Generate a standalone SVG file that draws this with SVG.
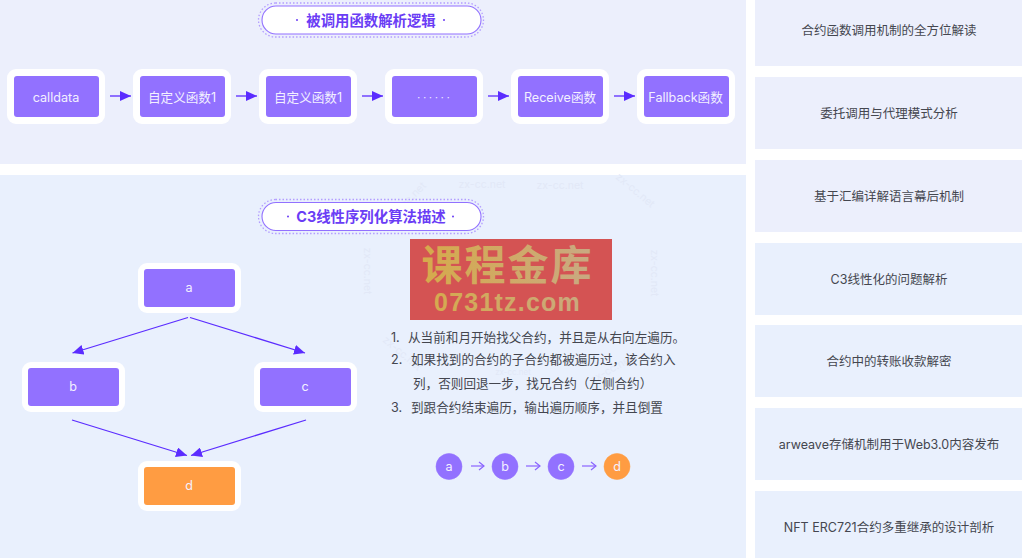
<svg xmlns="http://www.w3.org/2000/svg" width="1022" height="558" viewBox="0 0 1022 558">
<defs>
<marker id="ah" markerUnits="userSpaceOnUse" markerWidth="12" markerHeight="10" refX="11" refY="5" orient="auto"><path d="M0 0L11 5L0 10Z" fill="#5b2cff"/></marker>
<marker id="ah2" markerUnits="userSpaceOnUse" markerWidth="7" markerHeight="10" refX="6" refY="5" orient="auto"><path d="M1 1L6 5L1 9" fill="none" stroke="#8a63ff" stroke-width="1.2"/></marker>
<linearGradient id="gold" gradientUnits="userSpaceOnUse" x1="420" y1="0" x2="600" y2="0"><stop offset="0" stop-color="#d6aa4a"/><stop offset="1" stop-color="#c8a985"/></linearGradient>
</defs>
<style>
text{font-family:"Inter","Noto Sans CJK SC",sans-serif;text-anchor:middle}
.p1{fill:#eceffc}
.p2{fill:#e9f0fd}
.shell{fill:#fff}
.box{fill:#9271ff}
.org{fill:#ff9c42}
.lb{fill:#f3f0ff;font-size:12.6px}
.ttl{fill:#6a3df5;font-size:14.4px;font-weight:700}
.side{fill:#44464f;font-size:12.5px}
.ol{fill:#44464f;font-size:12.6px;text-anchor:start}
.conn{stroke:#5b2cff;stroke-width:1.3;fill:none;marker-end:url(#ah)}
.mini{stroke:#8a63ff;stroke-width:1.2;fill:none;marker-end:url(#ah2)}
.pill{fill:#fff;stroke:#9271ff;stroke-width:1.1}
.dot{fill:none;stroke:#b39dff;stroke-width:1.3;stroke-dasharray:1.5 2}
.wm{fill:#e2e8f7;font-size:10.5px}
.cir{stroke-width:1;stroke-opacity:.55}
</style>
<rect width="1022" height="558" fill="#fff"/>
<rect class="p1" x="0" y="0" width="746" height="164"/>
<rect class="p2" x="0" y="175" width="746" height="383"/>
<g id="watermarks">
<text class="wm" x="482" y="188">zx-cc.net</text>
<text class="wm" x="560" y="189">zx-cc.net</text>
<text class="wm" transform="translate(633 193) rotate(40)">zx-cc.net</text>
<text class="wm" transform="translate(410 203) rotate(-45)">zx-cc.net</text>
<text class="wm" transform="translate(364 271) rotate(90)">zx-cc.net</text>
<text class="wm" transform="translate(651 273) rotate(90)">zx-cc.net</text>
<text class="wm" x="513" y="375" style="font-size:8px">zx-cc.net</text>
<text class="wm" transform="translate(400 356) rotate(40)">zx-cc.net</text>
<text class="wm" transform="translate(613 372) rotate(-30)">zx-cc.net</text>
</g>
<g id="side-1"><rect class="p1" x="755" y="0" width="267" height="66"/><text class="side" x="889" y="35">合约函数调用机制的全方位解读</text></g>
<g id="side-2"><rect class="p1" x="755" y="77" width="267" height="72"/><text class="side" x="889" y="118">委托调用与代理模式分析</text></g>
<g id="side-3"><rect class="p1" x="755" y="160" width="267" height="72"/><text class="side" x="889" y="201">基于汇编详解语言幕后机制</text></g>
<g id="side-4"><rect class="p2" x="755" y="243" width="267" height="72"/><text class="side" x="889" y="284">C3线性化的问题解析</text></g>
<g id="side-5"><rect class="p2" x="755" y="325" width="267" height="72"/><text class="side" x="889" y="366">合约中的转账收款解密</text></g>
<g id="side-6"><rect class="p2" x="755" y="408" width="267" height="72"/><text class="side" x="889" y="449">arweave存储机制用于Web3.0内容发布</text></g>
<g id="side-7"><rect class="p2" x="755" y="491" width="267" height="67"/><text class="side" x="889" y="532">NFT ERC721合约多重继承的设计剖析</text></g>
<g id="title-1"><rect class="dot" x="258.5" y="3" width="225" height="34" rx="17"/><rect class="pill" x="262" y="6" width="219" height="28" rx="14"/><text class="ttl" x="371" y="25.5">被调用函数解析逻辑</text><circle cx="297" cy="20" r="1" fill="#6a3df5"/><circle cx="444" cy="20" r="1" fill="#6a3df5"/></g>
<g id="title-2"><rect class="dot" x="258.5" y="199.5" width="225" height="34" rx="17"/><rect class="pill" x="262" y="202.5" width="219" height="28" rx="14"/><text class="ttl" x="371" y="222">C3线性序列化算法描述</text><circle cx="288" cy="216.5" r="1" fill="#6a3df5"/><circle cx="453" cy="216.5" r="1" fill="#6a3df5"/></g>
<g id="n-calldata"><rect class="shell" x="7" y="69" width="98" height="55" rx="9"/><rect class="box" x="14" y="76" width="85" height="41" rx="3"/><text class="lb" x="56" y="101.5">calldata</text></g>
<g id="n-f1"><rect class="shell" x="133" y="69" width="98" height="55" rx="9"/><rect class="box" x="140" y="76" width="85" height="41" rx="3"/><text class="lb" x="182" y="101.5">自定义函数1</text></g>
<g id="n-f2"><rect class="shell" x="259" y="69" width="98" height="55" rx="9"/><rect class="box" x="266" y="76" width="85" height="41" rx="3"/><text class="lb" x="308" y="101.5">自定义函数1</text></g>
<g id="n-dots"><rect class="shell" x="385" y="69" width="98" height="55" rx="9"/><rect class="box" x="392" y="76" width="85" height="41" rx="3"/><text class="lb" x="435" y="100.5" style="letter-spacing:3px;font-size:10px">······</text></g>
<g id="n-receive"><rect class="shell" x="511" y="69" width="98" height="55" rx="9"/><rect class="box" x="518" y="76" width="85" height="41" rx="3"/><text class="lb" x="560" y="101.5">Receive函数</text></g>
<g id="n-fallback"><rect class="shell" x="637" y="69" width="98" height="55" rx="9"/><rect class="box" x="644" y="76" width="85" height="41" rx="3"/><text class="lb" x="685.5" y="101.5">Fallback函数</text></g>
<g id="n-a"><rect class="shell" x="138" y="263" width="103" height="50" rx="9"/><rect class="box" x="144" y="269" width="91" height="38" rx="3"/><text class="lb" x="189" y="292">a</text></g>
<g id="n-b"><rect class="shell" x="22" y="362" width="103" height="50" rx="9"/><rect class="box" x="28" y="368" width="91" height="38" rx="3"/><text class="lb" x="73" y="391">b</text></g>
<g id="n-c"><rect class="shell" x="254" y="362" width="103" height="50" rx="9"/><rect class="box" x="260" y="368" width="91" height="38" rx="3"/><text class="lb" x="305" y="391">c</text></g>
<g id="n-d"><rect class="shell" x="138" y="461" width="103" height="50" rx="9"/><rect class="org" x="144" y="467" width="91" height="38" rx="3"/><text class="lb" x="189" y="490">d</text></g>
<g id="connectors">
<path class="conn" d="M110 96H131"/><path class="conn" d="M236 96H257"/><path class="conn" d="M362 96H383"/><path class="conn" d="M488 96H509"/><path class="conn" d="M614 96H635"/>
<path class="conn" d="M188 317.5L72.5 353"/><path class="conn" d="M190 317.5L305 353"/><path class="conn" d="M72 420L187 455.5"/><path class="conn" d="M306 420L191 455.5"/>
<path class="mini" d="M471 466H484"/><path class="mini" d="M526 466H540"/><path class="mini" d="M582 466H596"/>
</g>
<text class="ol" y="341.5"><tspan x="391">1.</tspan><tspan x="408">从当前和月开始找父合约，并且是从右向左遍历。</tspan></text>
<text class="ol" y="363.5"><tspan x="391">2.</tspan><tspan x="411">如果找到的合约的子合约都被遍历过，该合约入</tspan></text>
<text class="ol" x="413" y="387.5">列，否则回退一步，找兄合约（左侧合约）</text>
<text class="ol" y="411.5"><tspan x="391">3.</tspan><tspan x="411">到跟合约结束遍历，输出遍历顺序，并且倒置</tspan></text>
<g id="s-a"><circle class="cir" cx="449" cy="466.5" r="13" fill="#9271ff" stroke="#9271ff"/><text class="lb" x="449" y="470.5">a</text></g>
<g id="s-b"><circle class="cir" cx="505" cy="466.5" r="13" fill="#9271ff" stroke="#9271ff"/><text class="lb" x="505" y="470.5">b</text></g>
<g id="s-c"><circle class="cir" cx="561" cy="466.5" r="13" fill="#9271ff" stroke="#9271ff"/><text class="lb" x="561" y="470.5">c</text></g>
<g id="s-d"><circle class="cir" cx="617" cy="466.5" r="13" fill="#ff9c42" stroke="#ff9c42"/><text class="lb" x="617" y="470.5">d</text></g>
<rect x="410" y="239" width="202" height="81" fill="#d45353"/>
<text fill="url(#gold)" style="font-weight:700"><tspan x="507.5" y="280" style="font-size:41px;letter-spacing:2px;font-family:'Noto Sans CJK SC',sans-serif">课程金库</tspan><tspan x="507.5" y="311" style="font-size:25px;letter-spacing:1.2px;font-family:'Liberation Sans',sans-serif">0731tz.com</tspan></text>
</svg>
